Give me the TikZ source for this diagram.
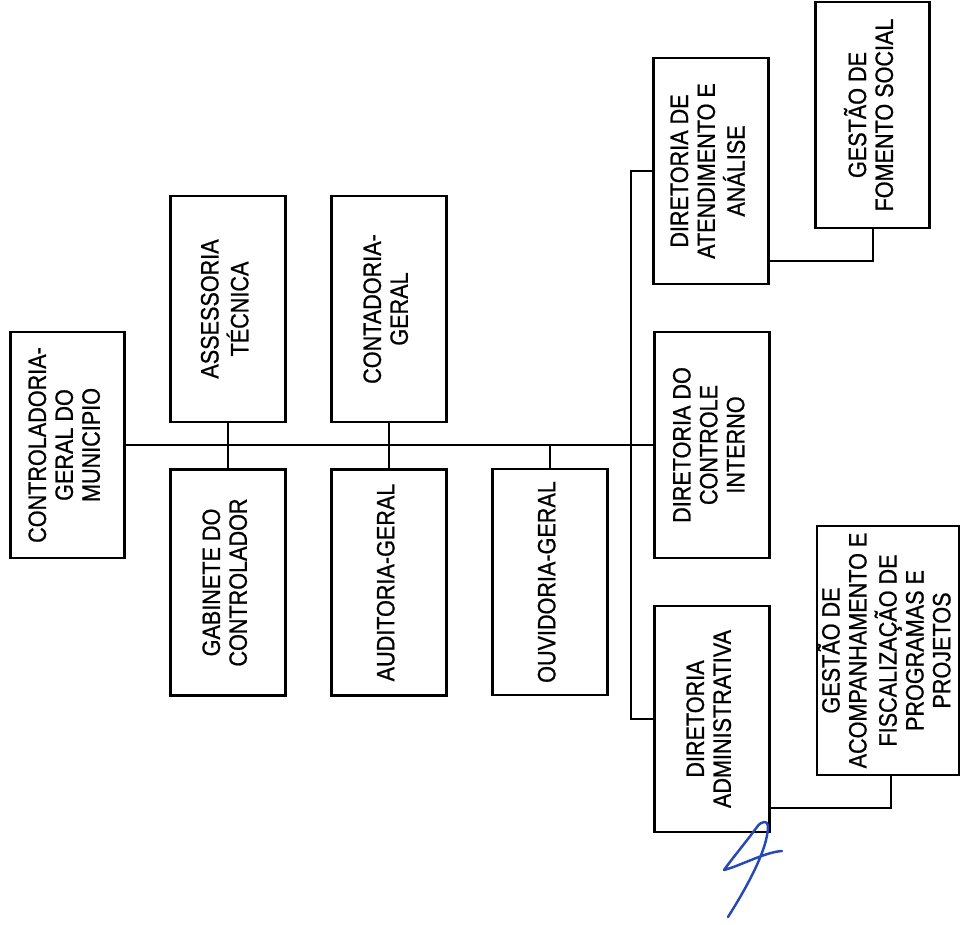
\documentclass[tikz,border=0pt]{standalone}
\usepackage{fontspec}
\setmainfont[FakeStretch=0.86,FakeBold=0.8]{Liberation Sans}
\definecolor{inkblue}{RGB}{38,72,185}
\newcommand{\boxfont}{\fontsize{14.3}{15.3}\selectfont}
% rotated, centred multi-line label
\newcommand{\rottext}[1]{\rotatebox{90}{\begin{tabular}{@{}c@{}}#1\end{tabular}}}
\begin{document}
\begin{tikzpicture}[x=0.02cm,y=-0.02cm,
  box/.style={draw, line width=1.6pt, minimum width=2.29cm, minimum height=4.52cm,
    inner sep=0pt, font=\boxfont},
  link/.style={line width=1.6pt},
  sig/.style={draw=inkblue, line width=1.4pt, line cap=round, line join=round}]
\useasboundingbox[fill=white] (0,0) rectangle (961,925);

% top of the hierarchy
\node[box] (ctrl) at (67.5,445) {\rottext{CONTROLADORIA-\\GERAL DO\\MUNICIPIO}};

% units attached to the main line
\node[box] (assess) at (228,309) {\rottext{ASSESSORIA\\TÉCNICA}};
\node[box] (gab) at (228,582.5) {\rottext{GABINETE DO\\CONTROLADOR}};
\node[box] (cont) at (389,309) {\rottext{CONTADORIA-\\GERAL}};
\node[box] (aud) at (389,582.5) {\rottext{AUDITORIA-GERAL}};
\node[box] (ouv) at (550,582) {\rottext{OUVIDORIA-GERAL}};

% directorates
\node[box] (datend) at (711,171) {\rottext{DIRETORIA DE\\ATENDIMENTO E\\ANÁLISE}};
\node[box] (dci) at (712,445) {\rottext{DIRETORIA DO\\CONTROLE\\INTERNO}};
\node[box] (dadm) at (712,719) {\rottext{DIRETORIA\\ADMINISTRATIVA}};

% sub-units
\node[box] (fomento) at (872.5,115) {\rottext{GESTÃO DE\\FOMENTO SOCIAL}};
\node[box, minimum width=2.84cm, minimum height=4.98cm] (acomp) at (888,650.5)
  {\rottext{GESTÃO DE\\ACOMPANHAMENTO E\\FISCALIZAÇÃO DE\\PROGRAMAS E\\PROJETOS}};

% connectors
\coordinate (bus) at (631,0);
\coordinate (fj) at (873,261);
\coordinate (aj) at (891,808);

\draw[link] (ctrl.east) -- (dci.west);
\draw[link] (assess.south) -- (gab.north);
\draw[link] (cont.south) -- (aud.north);
\draw[link] (ouv.north) -- (ouv.north |- ctrl.east);
\draw[link] (datend.west) -- (datend.west -| bus) -- (dadm.west -| bus) -- (dadm.west);
\draw[link] (fj -| datend.east) -- (fj) -- (fj |- fomento.south);
\draw[link] (aj -| dadm.east) -- (aj) -- (aj |- acomp.south);

% handwritten initial
\draw[sig] (728,917) .. controls (745,890) and (768,850) .. (768,826)
  .. controls (768,820) and (761,821) .. (757,827)
  .. controls (746,842) and (731,860) .. (724,870)
  .. controls (740,866) and (765,852) .. (782,851);
\end{tikzpicture}
\end{document}
